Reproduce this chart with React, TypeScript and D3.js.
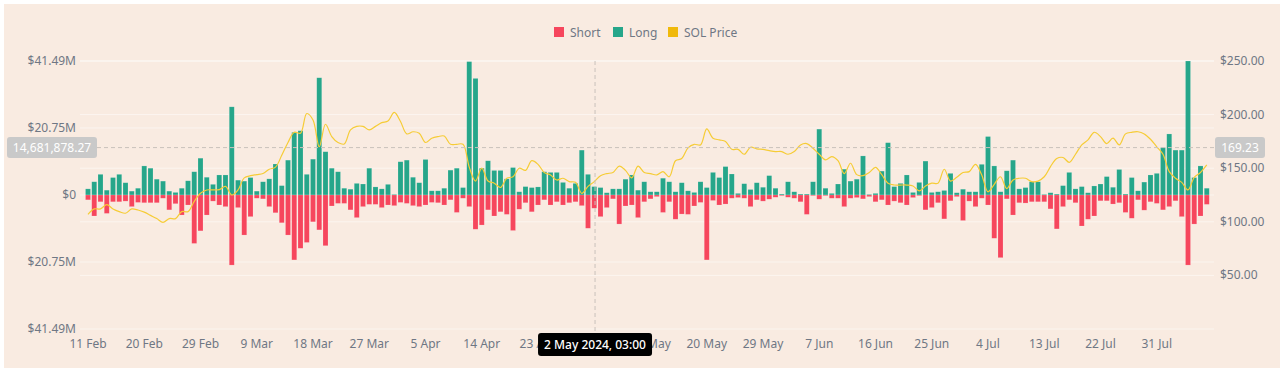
import * as d3 from 'd3';

// SOL liquidations (USD millions), daily from 11 Feb 2024
const START = new Date(Date.UTC(2024, 1, 11));

const LONGS = [
  1.9, 4.1, 6.4, 1.5, 5.4, 6.4, 3.8, 1.2, 2.1, 9.0, 8.3, 4.9, 4.3, 1.2, 0.8, 2.1, 4.4, 7.2, 11.4, 5.5,
  3.3, 6.2, 6.2, 27.3, 4.6, 4.3, 5.4, 1.2, 4.1, 5.0,
  9.6, 2.9, 10.8, 19.4, 19.9, 6.4, 11.1, 36.3, 13.4, 8.3, 7.2, 2.1, 1.8, 3.6, 3.4, 8.3, 2.5, 1.9, 3.3, 0.2,
  10.3, 10.8, 5.5, 3.8, 11.0, 1.3, 1.3, 2.1, 7.7, 8.3,
  2.3, 41.3, 36.1, 8.3, 10.6, 7.6, 7.6, 5.0, 8.5, 1.0, 2.6, 2.3, 2.5, 7.2, 7.0, 7.0, 3.9, 2.1, 3.6, 13.9,
  6.4, 2.6, 2.3, 0.7, 1.9, 1.9, 4.9, 6.2, 1.5, 4.1, 1.0,
  1.0, 5.2, 4.1, 1.0, 3.8, 1.3, 0.8, 4.1, 2.3, 7.0, 5.4, 8.8, 6.5, 0.5, 3.5, 1.7, 3.8, 2.4, 6.0, 2.1,
  0.3, 4.1, 1.0, 0.3, 0.3, 4.1, 20.4, 2.1, 0.5, 3.4,
  8.0, 4.3, 4.9, 12.1, 0.2, 0.5, 7.4, 16.2, 2.6, 3.6, 6.2, 0.8, 3.9, 10.5, 0.8, 1.0, 1.4, 6.7, 0.7, 1.8,
  1.0, 1.0, 9.5, 18.1, 9.0, 1.0, 7.5, 10.8, 1.9, 2.3, 4.1,
  4.1, 0.2, 0.7, 0.3, 2.9, 7.0, 1.9, 2.6, 0.7, 2.8, 3.4, 5.7, 2.4, 7.9, 0.3, 5.4, 1.3, 4.0, 6.2, 6.7,
  14.7, 18.9, 13.9, 13.9, 41.49, 5.4, 9.0, 2.1,
];

const SHORTS = [
  1.5, 6.5, 2.1, 5.7, 2.1, 2.1, 1.9, 3.6, 2.3, 2.4, 2.4, 2.4, 1.0, 4.6, 2.7, 6.2, 3.1, 15.0, 11.1, 6.2,
  1.9, 3.1, 3.6, 21.7, 3.9, 12.4, 6.7, 1.0, 1.2, 3.6,
  5.5, 8.6, 12.4, 20.1, 16.5, 14.7, 8.3, 10.8, 15.7, 3.4, 2.6, 2.6, 4.6, 7.0, 3.6, 2.9, 2.9, 3.9, 3.1, 3.3,
  2.3, 2.6, 3.3, 3.6, 3.1, 2.3, 2.4, 3.1, 1.5, 5.4,
  1.0, 3.6, 10.6, 9.3, 4.6, 6.5, 5.2, 6.0, 11.0, 4.4, 2.4, 5.2, 3.1, 1.5, 3.1, 2.1, 3.1, 2.4, 2.1, 3.3,
  10.3, 4.1, 6.7, 3.9, 1.2, 9.0, 3.4, 3.1, 7.0, 2.1, 1.2,
  0.5, 5.4, 2.1, 7.5, 5.9, 6.0, 3.4, 2.3, 20.1, 1.7, 3.1, 2.8, 1.0, 0.8, 1.0, 3.6, 1.5, 1.9, 1.3, 0.7,
  0.2, 0.7, 1.0, 2.1, 6.0, 0.2, 1.3, 0.2, 1.0, 1.0,
  3.6, 1.0, 0.8, 1.2, 0.5, 2.1, 1.5, 3.1, 1.9, 2.4, 3.1, 0.8, 0.2, 4.6, 3.9, 2.4, 7.4, 1.8, 0.5, 7.9,
  1.9, 3.6, 1.0, 3.1, 13.4, 19.4, 1.2, 6.2, 2.4, 2.5, 2.1,
  2.1, 2.1, 4.3, 10.5, 3.6, 1.5, 2.4, 9.6, 7.5, 6.5, 1.8, 1.8, 2.8, 2.4, 5.4, 7.2, 1.5, 4.7, 2.1, 2.6,
  4.6, 3.6, 1.8, 6.7, 21.7, 9.0, 6.5, 2.9,
];

const PRICES = [
  107, 112, 112, 116, 112, 109.5, 108, 112, 111, 109, 106, 103, 99.5, 103, 103, 109.5, 109.5, 119, 126.6, 129.7,
  129.7, 130, 133, 125, 129.7, 141, 143, 144, 145, 149,
  151, 162, 174, 183.5, 182.6, 201, 195, 170, 191, 179.5, 174, 172.6, 185.7, 189, 189, 185.7, 189, 192.5, 194, 202,
  193.5, 182, 184, 182.6, 174, 178, 179.5, 180, 172.3, 172.3,
  172.3, 151, 138, 150, 138, 136, 132, 140.6, 142, 150, 148, 157, 153.6, 146, 143.7, 139, 140.6, 137.5, 136.8, 126.6,
  133, 137.5, 143, 145, 146, 152, 148, 141, 152, 146, 145,
  143.7, 146.8, 142, 157, 159, 169, 172.3, 171.7, 186.6, 178, 176.4, 175, 167.6, 167.6, 163, 169.5, 168, 167.6, 166.4, 165.5,
  165.5, 163, 165.5, 171.7, 173, 168.6, 163, 157.7, 160.8, 157,
  145, 154.6, 144, 143, 146, 150.8, 144, 136, 134.3, 134.3, 134.3, 133.4, 128.8, 133.4, 136, 136, 149, 138, 141.5, 146,
  146.8, 153.6, 143.7, 128, 135, 142, 131, 139, 140.6, 140.6, 137.5,
  138, 142, 151.5, 159, 160, 155.5, 163, 171.7, 176.4, 183.5, 179.5, 173, 178, 171.7, 182, 183.5, 184, 182, 177, 170,
  163, 146.8, 140.6, 136.8, 129.7, 141.5, 146, 153,
];

const LEFT_TICKS = [41.49, 20.75, 0, -20.75, -41.49];
const LEFT_LABELS = ['$41.49M', '$20.75M', '$0', '$20.75M', '$41.49M'];
const RIGHT_TICKS = [50, 100, 150, 200, 250];
const X_TICK_STEP = 9; // days between x labels

const HOVER_DATE = new Date(Date.UTC(2024, 4, 2, 3));
const HOVER_LEFT = 14681878.27;
const HOVER_RIGHT = 169.23;

const RED = '#F6465D';
const GREEN = '#26A68A';
const YELLOW = '#F0B90B';
const TEXT = '#6F7784';
const FONT = '"Noto Sans", Roboto, sans-serif';

const day = (i: number) => d3.utcDay.offset(START, i);

export default function App() {
  const W = 1286;
  const H = 373;
  const n = LONGS.length;

  const x = d3.scaleUtc().domain([START, day(n - 1)]).range([88, 1206.75]);
  const yL = d3.scaleLinear().domain([-41.49, 41.49]).range([329, 61]);
  const yR = d3.scaleLinear().domain([0, 250]).range([329, 61]);
  const barW = 5;

  const line = d3
    .line<number>()
    .x((_, i) => x(day(i)))
    .y((d) => yR(d))
    .curve(d3.curveCatmullRom.alpha(0.5));

  const hx = x(HOVER_DATE);
  const hy = yL(HOVER_LEFT / 1e6);

  // the tick that sits under the hover tooltip is hidden by it
  const xTicks = d3
    .range(0, n, X_TICK_STEP)
    .map(day)
    .filter((d) => Math.abs(x(d) - hx) > 20);
  const fmt = d3.utcFormat('%-d %b');

  const legend = [
    { label: 'Short', color: RED, x: 554 },
    { label: 'Long', color: GREEN, x: 613 },
    { label: 'SOL Price', color: YELLOW, x: 668 },
  ];

  return (
    <svg
      width={W}
      height={H}
      style={{ position: 'absolute', left: 0, top: 0, fontFamily: FONT }}
    >
      <rect width={W} height={H} fill="#fff" />
      <rect x={4} y={4} width={1276} height={364} fill="#F9EBE1" />

      {/* grid */}
      {LEFT_TICKS.map((t) => (
        <line key={'gl' + t} x1={80} x2={1214} y1={yL(t)} y2={yL(t)} stroke="#fff" strokeOpacity={0.5} />
      ))}
      {RIGHT_TICKS.map((t) => (
        <line key={'gr' + t} x1={80} x2={1214} y1={yR(t)} y2={yR(t)} stroke="#fff" strokeOpacity={0.5} />
      ))}

      {/* legend */}
      {legend.map((l) => (
        <g key={l.label}>
          <rect x={l.x} y={27} width={10} height={10} fill={l.color} />
          <text x={l.x + 16} y={36.5} fontSize={12} fill={TEXT}>
            {l.label}
          </text>
        </g>
      ))}

      {/* left axis */}
      {LEFT_TICKS.map((t, i) => (
        <text key={'l' + i} x={76} y={yL(t) + 4} fontSize={12} fill={TEXT} textAnchor="end">
          {LEFT_LABELS[i]}
        </text>
      ))}
      {/* right axis */}
      {RIGHT_TICKS.map((t) => (
        <text key={'r' + t} x={1220} y={yR(t) + 4} fontSize={12} fill={TEXT}>
          {'$' + t.toFixed(2)}
        </text>
      ))}
      {/* x axis */}
      {xTicks.map((d) => (
        <text key={+d} x={x(d)} y={348} fontSize={12} fill={TEXT} textAnchor="middle">
          {fmt(d)}
        </text>
      ))}

      {/* bars */}
      {LONGS.map((v, i) => (
        <rect
          key={'lg' + i}
          x={x(day(i)) - barW / 2}
          y={yL(v)}
          width={barW}
          height={yL(0) - yL(v)}
          fill={GREEN}
          stroke="#fff"
          strokeOpacity={0.25}
          strokeWidth={0.6}
        />
      ))}
      {SHORTS.map((v, i) => (
        <rect
          key={'sh' + i}
          x={x(day(i)) - barW / 2}
          y={yL(0)}
          width={barW}
          height={yL(-v) - yL(0)}
          fill={RED}
          stroke="#fff"
          strokeOpacity={0.25}
          strokeWidth={0.6}
        />
      ))}

      {/* price line */}
      <path d={line(PRICES) ?? ''} fill="none" stroke="#F6CC36" strokeWidth={1.2} />

      {/* crosshair */}
      <line x1={hx} x2={hx} y1={61} y2={334} stroke="#C9C2BB" strokeDasharray="4 3" />
      <line x1={97} x2={1215} y1={hy} y2={hy} stroke="#C9C2BB" strokeDasharray="4 3" />

      <rect x={7} y={hy - 10.5} width={90} height={21} rx={3} fill="#C9C9C9" />
      <text x={52} y={hy + 4.5} fontSize={12} fill="#fff" textAnchor="middle">
        {d3.format(',.2f')(HOVER_LEFT)}
      </text>
      <rect x={1215} y={yR(HOVER_RIGHT) - 10.5} width={50} height={21} rx={3} fill="#C9C9C9" />
      <text x={1240} y={yR(HOVER_RIGHT) + 4.5} fontSize={12} fill="#fff" textAnchor="middle">
        {HOVER_RIGHT.toFixed(2)}
      </text>

      <rect x={hx - 57} y={333} width={114} height={23} rx={3} fill="#000" />
      <text x={hx} y={349} fontSize={12} fontWeight={500} fill="#fff" textAnchor="middle">
        {d3.utcFormat('%-d %B %Y, %H:%M')(HOVER_DATE)}
      </text>
    </svg>
  );
}
